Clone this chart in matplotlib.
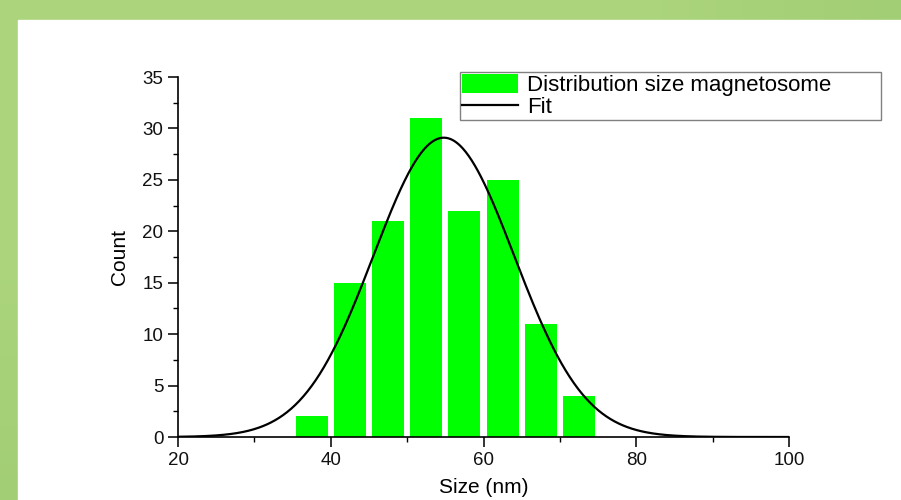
import numpy as np
import matplotlib
matplotlib.use("Agg")
import matplotlib.pyplot as plt
from matplotlib.patches import Rectangle
from matplotlib.ticker import MultipleLocator

plt.rcParams['font.family'] = ['Liberation Sans', 'DejaVu Sans']

# Data
bin_centers = [37.5, 42.5, 47.5, 52.5, 57.5, 62.5, 67.5, 72.5]
counts = [2, 15, 21, 31, 22, 25, 11, 4]
fit_mu = 54.8
fit_sigma = 9.2
fit_amp = 29.1
x_ticks = [20, 40, 60, 80, 100]
y_ticks = [0, 5, 10, 15, 20, 25, 30, 35]

fig = plt.figure(figsize=(9.01, 5.0), dpi=100)

# green gradient background
bg = fig.add_axes([0, 0, 1, 1], zorder=-10)
gx = np.linspace(0, 1, 200)
gy = np.linspace(0, 1, 100)
GX, GY = np.meshgrid(gx, gy)
c1 = np.array([0.675, 0.835, 0.490])
c2 = np.array([0.610, 0.790, 0.440])
t = (GX[..., None] > 0.7) * 0.6 * (GX[..., None] - 0.7) / 0.3
t = np.clip(t + (GY[..., None] > 0.5) * 0.6 * (GY[..., None] - 0.5) / 0.5, 0, 1)
img = c1 * (1 - t) + c2 * t
bg.imshow(img, extent=[0, 1, 0, 1], aspect='auto', origin='upper')
bg.add_patch(Rectangle((18 / 901, 0), 1, 480 / 500, color='white', transform=bg.transAxes))
bg.set_xlim(0, 1)
bg.set_ylim(0, 1)
bg.axis('off')

ax = fig.add_axes([178 / 901, 63 / 500, (789 - 178) / 901, (437 - 77) / 500])
ax.patch.set_alpha(0)
bars = ax.bar(bin_centers, counts, width=4.2, color='#00ff00', label='Distribution size magnetosome', zorder=2)
xs = np.linspace(20, 100, 600)
ys = fit_amp * np.exp(-0.5 * ((xs - fit_mu) / fit_sigma) ** 2)
line, = ax.plot(xs, ys, color='black', lw=1.6, label='Fit', zorder=3)

ax.set_xlim(20, 100)
ax.set_ylim(0, 35)
ax.set_xticks(x_ticks)
ax.set_yticks(y_ticks)
ax.xaxis.set_minor_locator(MultipleLocator(10))
ax.yaxis.set_minor_locator(MultipleLocator(2.5))
for s in ['top', 'right']:
    ax.spines[s].set_visible(False)
for s in ['left', 'bottom']:
    ax.spines[s].set_linewidth(1.2)
ax.tick_params(which='major', direction='out', length=7, width=1.2, labelsize=13.5, colors='#111111')
ax.tick_params(which='minor', direction='out', length=3.5, width=1.0)
ax.set_xlabel('Size (nm)', fontsize=15, labelpad=7)
ax.set_ylabel('Count', fontsize=15, labelpad=10)

x0, y0 = 460 / 901, (500 - 120) / 500
w, h = (881 - 460) / 901, 48 / 500
leg = ax.legend([bars, line], ['Distribution size magnetosome', 'Fit'],
                loc='upper left', bbox_to_anchor=(x0, y0, w, h), bbox_transform=fig.transFigure,
                mode='expand', fontsize=16, frameon=True, fancybox=False, framealpha=1,
                edgecolor='#808080', borderpad=0.08, labelspacing=0.0, handlelength=2.55,
                handleheight=0.95, handletextpad=0.4, borderaxespad=0)
leg.get_frame().set_linewidth(1.0)

fig.savefig('out.png', dpi=100)
